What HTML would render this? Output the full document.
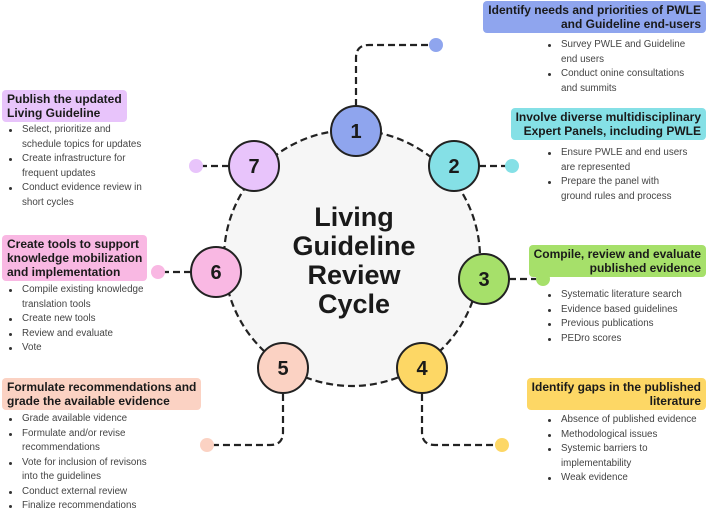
<!DOCTYPE html>
<html><head><meta charset="utf-8"><style>
*{margin:0;padding:0;box-sizing:border-box}
body{width:708px;height:510px;background:#fff;position:relative;overflow:hidden;font-family:"Liberation Sans",sans-serif}
.lab{position:absolute;font-weight:bold;font-size:12px;line-height:14px;color:#1a1a1a;border-radius:4px;padding:2px 5px}
.r{text-align:right}
ul{position:absolute;list-style:none;font-size:9.8px;line-height:14.5px;color:#444}
li{position:relative;padding-left:16px}
li:before{content:"";position:absolute;left:3px;top:6px;width:3px;height:3px;border-radius:50%;background:#333}
.t{position:absolute;font-weight:bold;font-size:27px;line-height:29px;color:#1a1a1a;text-align:center;width:200px;left:254px;top:203px}
</style></head><body>
<svg width="708" height="510" style="position:absolute;left:0;top:0">
<circle cx="352" cy="258" r="128" fill="#f6f6f6" stroke="#222" stroke-width="2.2" stroke-dasharray="7,4"/>
<g fill="none" stroke="#222" stroke-width="2.2" stroke-dasharray="7,4">
<path d="M356 106 V58 Q356 45 369 45 H430"/>
<path d="M479 166 H508"/>
<path d="M509 279 H538"/>
<path d="M422 394 V432 Q422 445 435 445 H496"/>
<path d="M283 394 V432 Q283 445 270 445 H212"/>
<path d="M191 272 H162"/>
<path d="M229 166 H200"/>
</g>
<g stroke="#222" stroke-width="2">
<circle cx="356" cy="131" r="25" fill="#8fa5ee"/>
<circle cx="454" cy="166" r="25" fill="#85e0e6"/>
<circle cx="484" cy="279" r="25" fill="#a6e06a"/>
<circle cx="422" cy="368" r="25" fill="#fdd765"/>
<ellipse cx="283" cy="368" rx="25" ry="25" fill="#fbd2c3"/>
<circle cx="216" cy="272" r="25" fill="#f9b8e3"/>
<circle cx="254" cy="166" r="25" fill="#e8c4fb"/>
</g>
<g stroke="none">
<circle cx="436" cy="45" r="7" fill="#8fa5ee"/>
<circle cx="512" cy="166" r="7" fill="#85e0e6"/>
<circle cx="543" cy="279" r="7" fill="#a6e06a"/>
<circle cx="502" cy="445" r="7" fill="#fdd765"/>
<circle cx="207" cy="445" r="7" fill="#fbd2c3"/>
<circle cx="158" cy="272" r="7" fill="#f9b8e3"/>
<circle cx="196" cy="166" r="7" fill="#e8c4fb"/>
</g>
<g font-family="Liberation Sans" font-weight="bold" font-size="20" fill="#1a1a1a" text-anchor="middle">
<text x="356" y="138">1</text><text x="454" y="173">2</text><text x="484" y="286">3</text>
<text x="422" y="375">4</text><text x="283" y="375">5</text><text x="216" y="279">6</text><text x="254" y="173">7</text>
</g>
</svg>
<div class="t">Living<br>Guideline<br>Review<br>Cycle</div>

<div class="lab r" style="right:2px;top:1px;background:#8fa5ee">Identify needs and priorities of PWLE<br>and Guideline end-users</div>
<ul style="left:545px;top:38px"><li>Survey PWLE and Guideline<br>end users</li><li>Conduct onine consultations<br>and summits</li></ul>

<div class="lab r" style="right:2px;top:108px;background:#85e0e6">Involve diverse multidisciplinary<br>Expert Panels, including PWLE</div>
<ul style="left:545px;top:146px"><li>Ensure PWLE and end users<br>are represented</li><li>Prepare the panel with<br>ground rules and process</li></ul>

<div class="lab r" style="right:2px;top:245px;background:#a6e06a">Compile, review and evaluate<br>published evidence</div>
<ul style="left:545px;top:288px"><li>Systematic literature search</li><li>Evidence based guidelines</li><li>Previous publications</li><li>PEDro scores</li></ul>

<div class="lab r" style="right:2px;top:378px;background:#fdd765">Identify gaps in the published<br>literature</div>
<ul style="left:545px;top:413px"><li>Absence of published evidence</li><li>Methodological issues</li><li>Systemic barriers to<br>implementability</li><li>Weak evidence</li></ul>

<div class="lab" style="left:2px;top:378px;background:#fbd2c3">Formulate recommendations and<br>grade the available evidence</div>
<ul style="left:6px;top:412px"><li>Grade available vidence</li><li>Formulate and/or revise<br>recommendations</li><li>Vote for inclusion of revisons<br>into the guidelines</li><li>Conduct external review</li><li>Finalize recommendations</li></ul>

<div class="lab" style="left:2px;top:235px;background:#f9b8e3">Create tools to support<br>knowledge mobilization<br>and implementation</div>
<ul style="left:6px;top:283px"><li>Compile existing knowledge<br>translation tools</li><li>Create new tools</li><li>Review and evaluate</li><li>Vote</li></ul>

<div class="lab" style="left:2px;top:90px;background:#e8c4fb">Publish the updated<br>Living Guideline</div>
<ul style="left:6px;top:123px"><li>Select, prioritize and<br>schedule topics for updates</li><li>Create infrastructure for<br>frequent updates</li><li>Conduct evidence review in<br>short cycles</li></ul>
</body></html>
